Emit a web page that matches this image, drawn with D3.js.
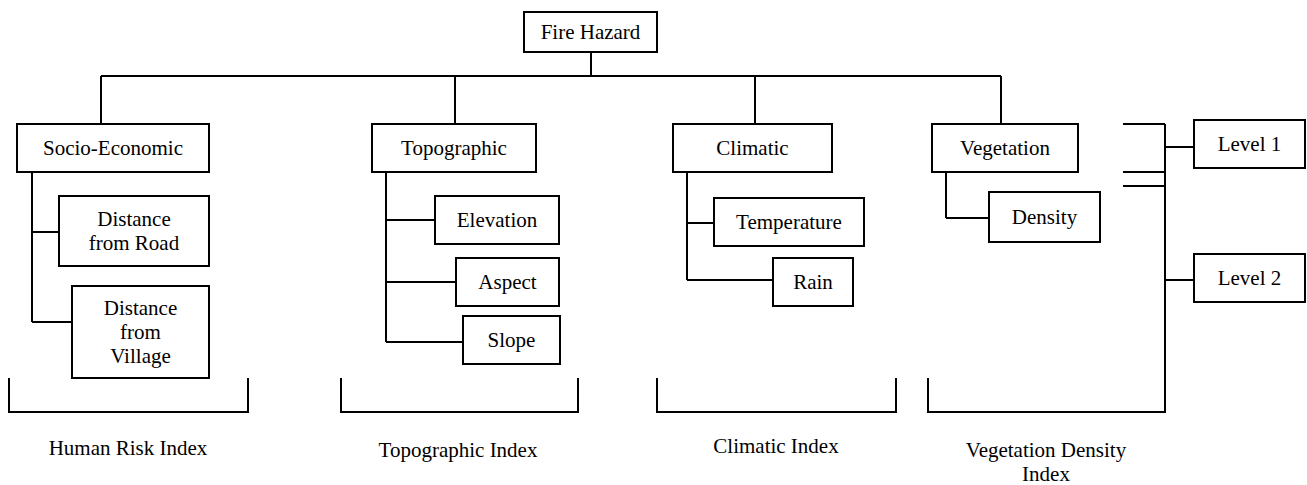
<!DOCTYPE html>
<html>
<head>
<meta charset="utf-8">
<script src="https://cdn.jsdelivr.net/npm/d3@7"></script>
<style>
  body { margin: 0; background: #fff; }
  svg text { font-family: "Liberation Serif", "Times New Roman", serif; font-size: 21px; fill: #000; }
</style>
</head>
<body>
<svg id="viz"></svg>
<script>
// labels
var rootLabel = "Fire Hazard"
var factors = ["Socio-Economic", "Topographic", "Climatic", "Vegetation"]
var subFactors = [
  ["Distance\nfrom Road", "Distance\nfrom\nVillage"],
  ["Elevation", "Aspect", "Slope"],
  ["Temperature", "Rain"],
  ["Density"]
]
var indexLabels = ["Human Risk Index", "Topographic Index", "Climatic Index", "Vegetation Density\nIndex"]
var levels = ["Level 1", "Level 2"]

// layout (pixel geometry of the diagram, kept apart from the labels)
var width = 1307, height = 485
var rootBox = [524, 12, 657, 52], rootStemX = 591, busY = 76
var factorY = [124, 172]
var factorX = [[17, 209], [372, 536], [673, 832], [932, 1078]]
var dropX = [101, 455, 755, 1001]
var spineX = [32, 386, 687, 946]
// [x0, y0, x1, y1, branchY]
var subBoxes = [
  [[59, 196, 209, 266, 232], [72, 286, 209, 378, 322]],
  [[435, 196, 559, 244, 220], [456, 258, 559, 306, 282], [463, 316, 560, 364, 342]],
  [[714, 198, 864, 246, 223], [773, 258, 853, 306, 280]],
  [[989, 192, 1100, 242, 218]]
]
var bracketX = [[9, 248], [341, 578], [657, 896], [928, 1165]], bracketY = [378, 412]
var indexX = [128, 458, 776, 1046], indexY = [455, 457, 453, 457]
var levelBoxes = [[1194, 120, 1305, 168, 147], [1194, 254, 1305, 302, 280]]
var levelSpineX = 1165, levelStubX = 1123, levelStubY = [124, 172, 186]
var lineH = 24

var svg = d3.select("#viz").attr("width", width).attr("height", height)
var g = svg.append("g").attr("fill", "none").attr("stroke", "#000").attr("stroke-width", 2)

function box(sel, b, label) {
  sel.append("rect")
    .attr("x", b[0]).attr("y", b[1])
    .attr("width", b[2] - b[0]).attr("height", b[3] - b[1])
    .attr("fill", "#fff")
  var lines = label.split("\n")
  var cy = (b[1] + b[3]) / 2
  var cx = (b[0] + b[2]) / 2
  svg.append("text")
    .attr("text-anchor", "middle")
    .selectAll("tspan")
    .data(lines)
    .enter()
    .append("tspan")
    .attr("x", cx)
    .attr("y", function(d, i) { return cy + 7 + (i - (lines.length - 1) / 2) * lineH })
    .text(function(d) { return d })
}

function path(pts) {
  g.append("path").attr("d", d3.line()(pts))
}

// root
path([[rootStemX, rootBox[3]], [rootStemX, busY]])
path([[dropX[0], busY], [dropX[dropX.length - 1], busY]])
box(g, rootBox, rootLabel)

// factors and their sub-factors
factors.forEach(function(f, i) {
  path([[dropX[i], busY], [dropX[i], factorY[0]]])
  var subs = subBoxes[i]
  var lastY = subs[subs.length - 1][4]
  path([[spineX[i], factorY[1]], [spineX[i], lastY]])
  subs.forEach(function(b, j) {
    path([[spineX[i], b[4]], [b[0], b[4]]])
    box(g, b, subFactors[i][j])
  })
  box(g, [factorX[i][0], factorY[0], factorX[i][1], factorY[1]], f)

  // bracket under each group
  var bx = bracketX[i]
  path([[bx[0], bracketY[0]], [bx[0], bracketY[1]], [bx[1], bracketY[1]], [bx[1], bracketY[0]]])

  var il = indexLabels[i].split("\n")
  svg.append("text")
    .attr("text-anchor", "middle")
    .selectAll("tspan")
    .data(il)
    .enter()
    .append("tspan")
    .attr("x", indexX[i])
    .attr("y", function(d, k) { return indexY[i] + k * lineH })
    .text(function(d) { return d })
})

// level legend on the right
levelStubY.forEach(function(y) { path([[levelStubX, y], [levelSpineX, y]]) })
path([[levelSpineX, levelStubY[0]], [levelSpineX, bracketY[1]]])
levels.forEach(function(l, i) {
  var b = levelBoxes[i]
  path([[levelSpineX, b[4]], [b[0], b[4]]])
  box(g, b, l)
})
</script>
</body>
</html>
